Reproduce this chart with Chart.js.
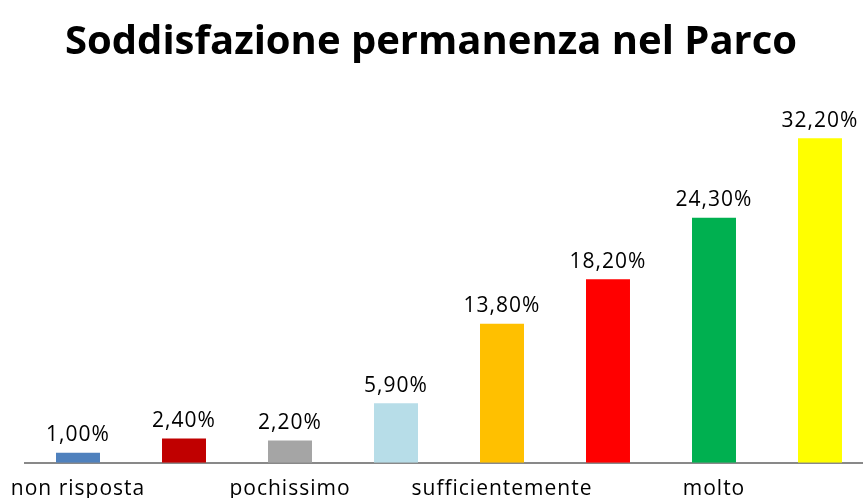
<!DOCTYPE html>
<html>
<head>
<meta charset="utf-8">
<script src="https://cdn.jsdelivr.net/npm/chart.js@4"></script>
<style>
  html, body { margin: 0; padding: 0; background: #fff; overflow: hidden; }
  #wrap { position: absolute; left: 0; top: 0; width: 873px; height: 498px; }
</style>
</head>
<body>
<div id="wrap"><canvas id="chart"></canvas></div>
<script>
const titleText = "Soddisfazione permanenza nel Parco";
const categories = ["non risposta", "", "pochissimo", "", "sufficientemente", "", "molto", ""];
const values = [1.0, 2.4, 2.2, 5.9, 13.8, 18.2, 24.3, 32.2];
const valueLabels = ["1,00%", "2,40%", "2,20%", "5,90%", "13,80%", "18,20%", "24,30%", "32,20%"];
const barColors = ["#4F81BD", "#C00000", "#A5A5A5", "#B7DDE8", "#FFC000", "#FF0000", "#00B050", "#FFFF00"];

// etichette con spaziatura un po' larga come nell'originale
const spacingPlugin = {
  id: "spacing",
  beforeLayout(chart) { chart.ctx.letterSpacing = "1px"; },
  beforeDraw(chart) { chart.ctx.letterSpacing = "1px"; }
};

// percentuali sopra le barre + titolo (disegnato a mano per centrarlo sulla pagina)
const valueLabelPlugin = {
  id: "valueLabels",
  afterDatasetsDraw(chart) {
    const ctx = chart.ctx;
    const meta = chart.getDatasetMeta(0);
    ctx.save();
    ctx.font = "21px 'Open Sans', sans-serif";
    ctx.letterSpacing = "1px";
    ctx.fillStyle = "#000";
    ctx.textAlign = "center";
    ctx.textBaseline = "bottom";
    meta.data.forEach((bar, i) => {
      ctx.fillText(valueLabels[i], bar.x, bar.y - 7);
    });
    ctx.restore();
  },
  afterDraw(chart) {
    const ctx = chart.ctx;
    ctx.save();
    ctx.letterSpacing = "0px";
    ctx.font = "bold 40px 'Open Sans', sans-serif";
    ctx.fillStyle = "#000";
    ctx.textAlign = "center";
    ctx.textBaseline = "alphabetic";
    ctx.fillText(titleText, 431, 54);
    ctx.restore();
  }
};

const ctx = document.getElementById("chart").getContext("2d");
const myChart = new Chart(ctx, {
  type: "bar",
  data: {
    labels: categories,
    datasets: [{
      data: values,
      backgroundColor: barColors,
      borderWidth: 0,
      barPercentage: 0.83,
      categoryPercentage: 0.5
    }]
  },
  options: {
    responsive: true,
    maintainAspectRatio: false,
    animation: false,
    layout: { padding: { left: 25, right: 0, top: 110, bottom: -10 } },
    scales: {
      x: {
        grid: { display: false },
        border: { color: "#898989", width: 2 },
        ticks: {
          autoSkip: false,
          maxRotation: 0,
          color: "#000",
          padding: 6,
          font: { family: "'Open Sans', sans-serif", size: 21 }
        }
      },
      y: {
        display: false,
        min: 0,
        max: 35
      }
    },
    plugins: {
      legend: { display: false },
      tooltip: { enabled: false }
    }
  },
  plugins: [spacingPlugin, valueLabelPlugin]
});
</script>
</body>
</html>
